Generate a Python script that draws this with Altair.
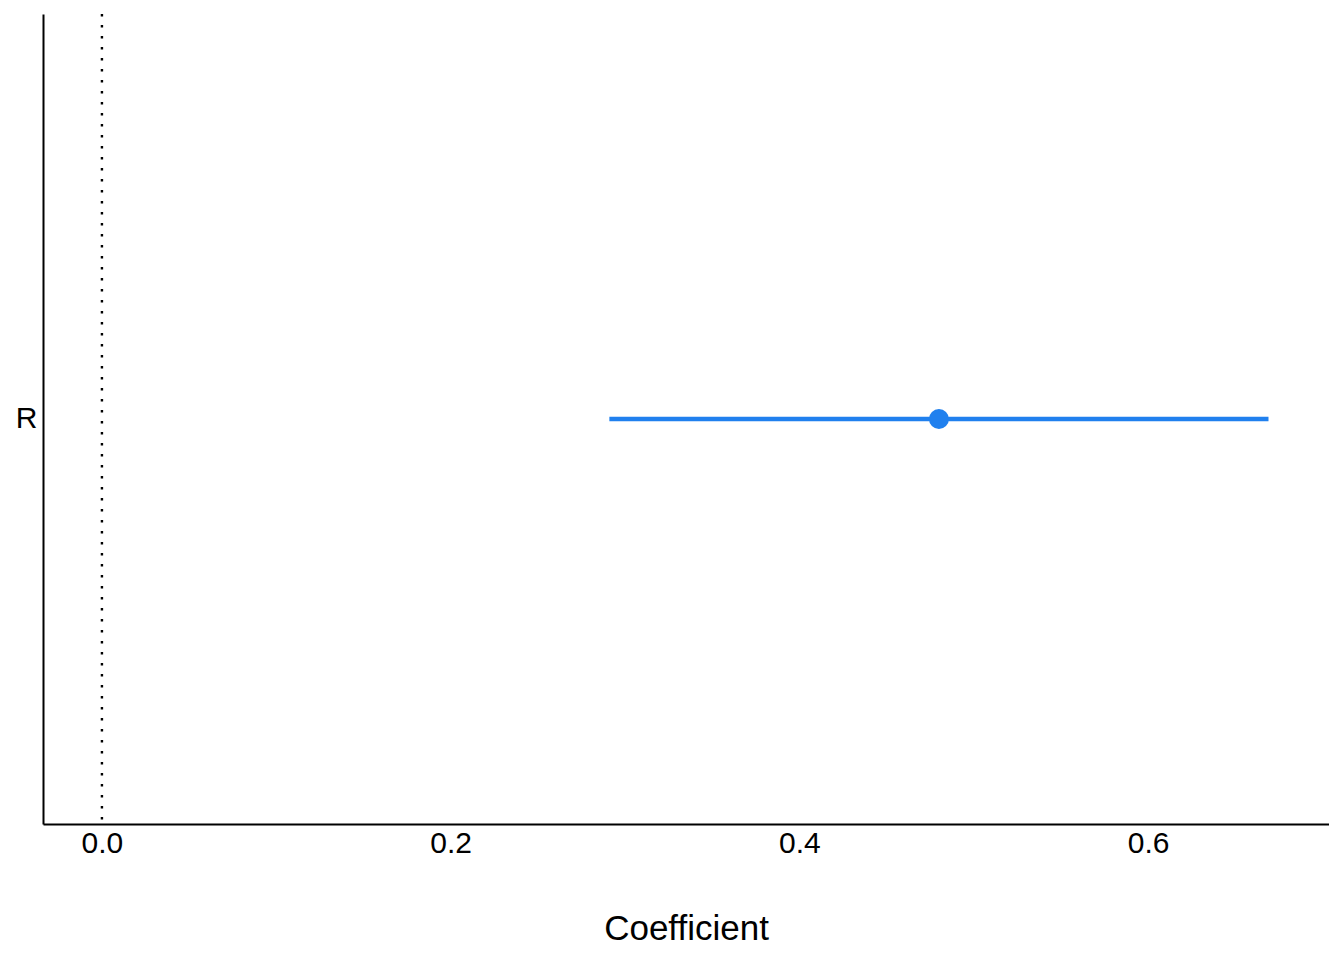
import altair as alt
import pandas as pd

terms = ["R"]
estimates = [0.480]
lowers = [0.291]
uppers = [0.669]
ref_x = [0.0]
x_ticks = [0.0, 0.2, 0.4, 0.6]

df = pd.DataFrame({"term": terms, "estimate": estimates, "lower": lowers, "upper": uppers})
ref = pd.DataFrame({"x": ref_x})

FONT = "Liberation Sans"
BLUE = "#2080EE"

xscale = alt.Scale(domain=[-0.0338, 0.7037], nice=False, zero=False)
yscale = alt.Scale(domain=terms)

xaxis = alt.Axis(
    title="Coefficient", values=x_ticks, format=".1f", grid=False, ticks=False, tickSize=0,
    labelFontSize=30, labelFont=FONT, labelColor="black", labelPadding=4,
    titleFontSize=35, titleFont=FONT, titleFontWeight="normal", titleColor="black", titlePadding=53,
    domainColor="black", domainWidth=2,
)
yaxis = alt.Axis(
    title=None, grid=False, ticks=False, tickSize=0,
    labelFontSize=30, labelFont=FONT, labelColor="black", labelPadding=6,
    domainColor="black", domainWidth=2,
)

refline = alt.Chart(ref).mark_rule(color="black", strokeWidth=2.4, strokeDash=[2.4, 8.6]).encode(
    x=alt.X("x:Q", scale=xscale, axis=xaxis)
)

ci = alt.Chart(df).mark_rule(color=BLUE, strokeWidth=4.5).encode(
    x=alt.X("lower:Q", scale=xscale, axis=xaxis),
    x2="upper:Q",
    y=alt.Y("term:N", scale=yscale, axis=yaxis),
)

pt = alt.Chart(df).mark_circle(color=BLUE, opacity=1, size=400).encode(
    x=alt.X("estimate:Q", scale=xscale, axis=xaxis),
    y=alt.Y("term:N", scale=yscale, axis=yaxis),
)

chart = alt.layer(refline, ci, pt).properties(
    width=1286, height=810,
    autosize=alt.AutoSizeParams(type="none"),
    padding={"left": 35, "top": 6, "right": 0, "bottom": 126},
).configure_view(stroke="transparent")

chart.save("out.html", embed_options={"renderer": "svg", "actions": False})
